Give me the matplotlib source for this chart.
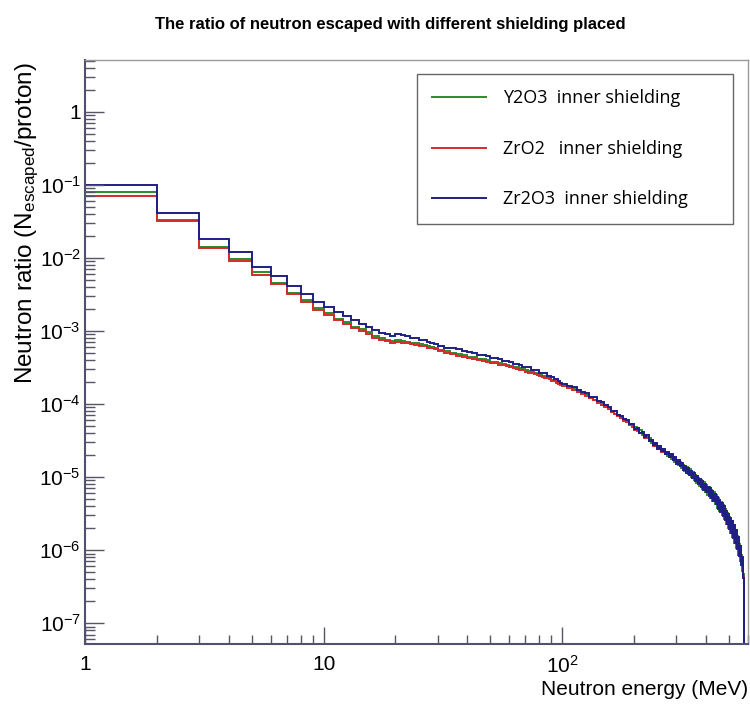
import matplotlib
matplotlib.use("Agg")
import matplotlib.pyplot as plt
import numpy as np
from matplotlib.ticker import LogLocator, FuncFormatter, NullFormatter

plt.rcParams['font.family'] = ['Liberation Sans', 'DejaVu Sans']
plt.rcParams['mathtext.fontset'] = 'custom'
plt.rcParams['mathtext.rm'] = 'Liberation Sans'
plt.rcParams['mathtext.it'] = 'Liberation Sans:italic'
plt.rcParams['mathtext.bf'] = 'Liberation Sans:bold'
plt.rcParams['mathtext.default'] = 'regular'

# bin edges (MeV): 1 MeV bins up to 30, 2 MeV up to 100, 5 MeV up to 600
edges = list(range(1, 31)) + list(range(32, 101, 2)) + list(range(105, 601, 5))

labels = ["Y2O3  inner shielding", "ZrO2   inner shielding", "Zr2O3  inner shielding"]
colors = ["#2b8c2b", "#d42a2a", "#1f1f85"]

# log10 of escaped neutrons per proton (-9 = empty bin)
y2o3_log = [
    -1.10, -1.48, -1.85, -2.02, -2.20, -2.34, -2.48, -2.58, -2.69, -2.76,
    -2.83, -2.88, -2.94, -2.98, -3.02, -3.07, -3.10, -3.12, -3.14, -3.13,
    -3.14, -3.15, -3.16, -3.17, -3.18, -3.19, -3.21, -3.22, -3.23,
    -3.26, -3.28, -3.30, -3.32, -3.33, -3.35, -3.36, -3.38, -3.39, -3.40,
    -3.42, -3.42, -3.44, -3.45, -3.46, -3.48, -3.49, -3.50, -3.51, -3.52,
    -3.54, -3.55, -3.56, -3.57, -3.58, -3.60, -3.61, -3.62, -3.64, -3.65,
    -3.67, -3.68, -3.70, -3.72, -3.73,
    -3.75, -3.77, -3.80, -3.82, -3.85, -3.88, -3.90, -3.94, -3.96, -4.00,
    -4.02, -4.07, -4.09, -4.13, -4.15, -4.19, -4.21, -4.25, -4.27, -4.31,
    -4.31, -4.37, -4.36, -4.42, -4.42, -4.47, -4.47, -4.53, -4.53, -4.58,
    -4.57, -4.62, -4.61, -4.66, -4.65, -4.71, -4.68, -4.75, -4.72, -4.79,
    -4.76, -4.83, -4.79, -4.87, -4.83, -4.92, -4.86, -4.96, -4.89, -5.00,
    -4.93, -5.04, -4.97, -5.08, -5.01, -5.12, -5.04, -5.16, -5.07, -5.20,
    -5.11, -5.24, -5.14, -5.29, -5.17, -5.33, -5.21, -5.37, -5.25, -5.42,
    -5.29, -5.47, -5.34, -5.52, -5.38, -5.58, -5.44, -5.64, -5.49, -5.70,
    -5.55, -5.76, -5.60, -5.82, -5.66, -5.90, -5.73, -5.97, -5.80, -6.06,
    -5.92, -6.15, -6.06, -6.28, -6.32, -6.62, -9.0, -9.0, -9.0, -9.0,
]
zro2_log = [
    -1.15, -1.50, -1.87, -2.04, -2.23, -2.36, -2.50, -2.60, -2.71, -2.78,
    -2.85, -2.90, -2.96, -3.00, -3.04, -3.09, -3.12, -3.14, -3.16, -3.15,
    -3.16, -3.17, -3.18, -3.19, -3.20, -3.21, -3.23, -3.24, -3.25,
    -3.28, -3.30, -3.32, -3.34, -3.35, -3.37, -3.38, -3.40, -3.41, -3.42,
    -3.44, -3.44, -3.46, -3.47, -3.48, -3.50, -3.51, -3.52, -3.53, -3.54,
    -3.56, -3.57, -3.58, -3.59, -3.60, -3.62, -3.63, -3.64, -3.65, -3.66,
    -3.68, -3.69, -3.71, -3.73, -3.74,
    -3.76, -3.78, -3.81, -3.83, -3.86, -3.89, -3.92, -3.95, -3.98, -4.01,
    -4.04, -4.07, -4.11, -4.13, -4.17, -4.19, -4.23, -4.24, -4.29, -4.30,
    -4.35, -4.35, -4.40, -4.40, -4.46, -4.45, -4.51, -4.50, -4.57, -4.55,
    -4.60, -4.60, -4.65, -4.63, -4.68, -4.68, -4.72, -4.71, -4.76, -4.75,
    -4.80, -4.78, -4.84, -4.83, -4.88, -4.86, -4.91, -4.91, -4.95, -4.94,
    -4.99, -4.98, -5.03, -5.02, -5.07, -5.05, -5.10, -5.09, -5.14, -5.12,
    -5.18, -5.16, -5.22, -5.19, -5.26, -5.23, -5.30, -5.26, -5.34, -5.30,
    -5.39, -5.35, -5.44, -5.39, -5.49, -5.45, -5.54, -5.50, -5.60, -5.55,
    -5.66, -5.60, -5.71, -5.66, -5.78, -5.71, -5.84, -5.79, -5.93, -5.86,
    -6.04, -5.98, -6.14, -6.15, -6.35, -6.58, -9.0, -9.0, -9.0, -9.0,
]
zr2o3_log = [
    -1.00, -1.38, -1.74, -1.92, -2.12, -2.25, -2.39, -2.49, -2.60, -2.67,
    -2.74, -2.79, -2.85, -2.90, -2.94, -2.99, -3.03, -3.04, -3.07, -3.04,
    -3.06, -3.07, -3.09, -3.10, -3.12, -3.13, -3.15, -3.16, -3.18,
    -3.20, -3.23, -3.24, -3.25, -3.28, -3.29, -3.30, -3.33, -3.33, -3.34,
    -3.37, -3.37, -3.39, -3.41, -3.41, -3.42, -3.45, -3.45, -3.46, -3.49,
    -3.49, -3.50, -3.53, -3.53, -3.54, -3.57, -3.57, -3.58, -3.61, -3.61,
    -3.63, -3.66, -3.66, -3.68, -3.71,
    -3.73, -3.76, -3.77, -3.81, -3.83, -3.85, -3.90, -3.91, -3.96, -3.97,
    -4.02, -4.04, -4.09, -4.10, -4.15, -4.16, -4.21, -4.22, -4.27, -4.28,
    -4.34, -4.33, -4.39, -4.38, -4.45, -4.43, -4.50, -4.49, -4.56, -4.54,
    -4.61, -4.58, -4.64, -4.62, -4.69, -4.66, -4.73, -4.69, -4.77, -4.73,
    -4.82, -4.77, -4.85, -4.81, -4.90, -4.85, -4.94, -4.88, -4.97, -4.91,
    -5.01, -4.95, -5.06, -4.99, -5.09, -5.02, -5.13, -5.06, -5.17, -5.09,
    -5.21, -5.13, -5.26, -5.15, -5.29, -5.19, -5.33, -5.23, -5.37, -5.27,
    -5.43, -5.31, -5.48, -5.36, -5.53, -5.40, -5.59, -5.46, -5.64, -5.51,
    -5.71, -5.56, -5.76, -5.60, -5.83, -5.66, -5.90, -5.72, -5.98, -5.82,
    -6.08, -5.94, -6.20, -6.10, -6.38, -6.55, -9.0, -9.0, -9.0, -9.0,
]

y_ticklabels = {1: '1', 0.1: '$10^{-1}$', 0.01: '$10^{-2}$', 1e-3: '$10^{-3}$', 1e-4: '$10^{-4}$',
                1e-5: '$10^{-5}$', 1e-6: '$10^{-6}$', 1e-7: '$10^{-7}$'}
x_ticklabels = {1: '1', 10: '10', 100: '$10^{2}$'}

fig = plt.figure(figsize=(7.5, 7.07), dpi=100)
ax = fig.add_axes([85 / 750, 63 / 707, 663 / 750, 584 / 707])

for vals, lab, col in zip([y2o3_log, zro2_log, zr2o3_log], labels, colors):
    ax.stairs(10.0 ** np.array(vals), edges, baseline=None, color=col, linewidth=1.4, label=lab)

ax.set_xscale('log')
ax.set_yscale('log')
ax.set_xlim(1, 600)
ax.set_ylim(5.2e-8, 5.1)


def fmt(table):
    def f(v, pos):
        for k, s in table.items():
            if abs(v / k - 1) < 1e-6:
                return s
        return ''
    return FuncFormatter(f)


ax.xaxis.set_major_locator(LogLocator(base=10, numticks=10))
ax.xaxis.set_minor_locator(LogLocator(base=10, subs=range(2, 10), numticks=50))
ax.yaxis.set_major_locator(LogLocator(base=10, numticks=20))
ax.yaxis.set_minor_locator(LogLocator(base=10, subs=range(2, 10), numticks=100))
ax.xaxis.set_major_formatter(fmt(x_ticklabels))
ax.yaxis.set_major_formatter(fmt(y_ticklabels))
ax.xaxis.set_minor_formatter(NullFormatter())
ax.yaxis.set_minor_formatter(NullFormatter())

tick_col = '#555566'
ax.tick_params(axis='y', which='major', direction='in', length=14, width=1, color=tick_col,
               labelsize=15, pad=3, right=False)
ax.tick_params(axis='y', which='minor', direction='in', length=7, width=1, color=tick_col, right=False)
ax.tick_params(axis='x', which='major', direction='in', length=12, width=1, color=tick_col,
               labelsize=15, pad=8, top=False)
ax.tick_params(axis='x', which='minor', direction='in', length=6.5, width=1, color=tick_col, top=False)

for s in ['left', 'bottom']:
    ax.spines[s].set_color('#505070')
    ax.spines[s].set_linewidth(1.5)
for s in ['top', 'right']:
    ax.spines[s].set_color('#9a9a9a')
    ax.spines[s].set_linewidth(1.0)

ax.set_xlabel('Neutron energy (MeV)', fontsize=15, loc='right')
ax.xaxis.set_label_coords(1.0, -0.062)
ax.set_ylabel('Neutron ratio (N$_{escaped}$/proton)', fontsize=17.5, loc='top')
ax.yaxis.set_label_coords(-0.066, 0.995)

fig.text(390 / 750, 1 - 25 / 707, 'The ratio of neutron escaped with different shielding placed',
         ha='center', va='center', fontsize=12, fontweight='bold')

leg = ax.legend(loc='upper left', bbox_to_anchor=(0.5008, 0.714, 0.4766, 0.262), mode='expand',
                frameon=True, fancybox=False, edgecolor='#666666', framealpha=1,
                prop={'family': 'Open Sans', 'size': 13},
                borderpad=0.85, labelspacing=1.8, handlelength=2.95, handletextpad=0.95,
                borderaxespad=0)
leg.get_frame().set_linewidth(1.0)

fig.savefig('out.png', dpi=100)
